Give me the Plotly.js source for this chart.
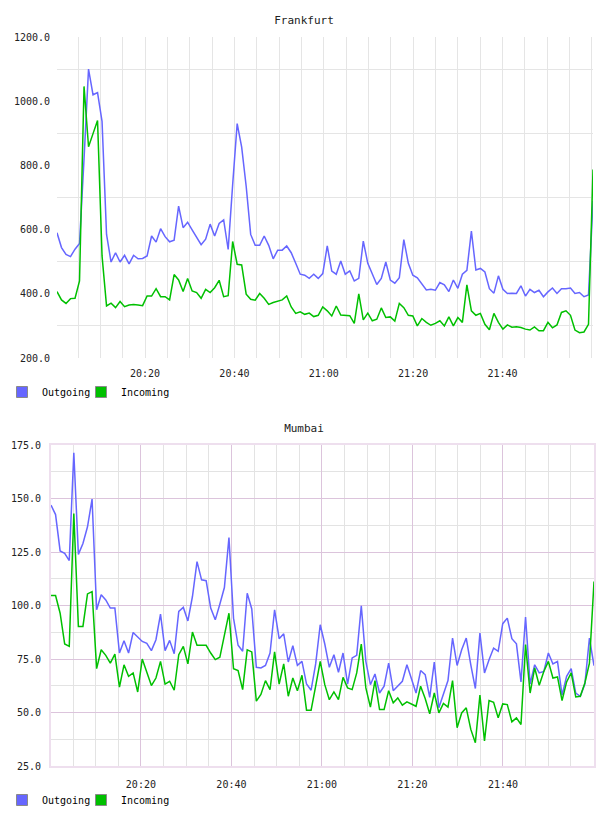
<!DOCTYPE html>
<html>
<head>
<meta charset="utf-8">
<script src="https://cdn.plot.ly/plotly-3.0.1.min.js"></script>
<style>
  html, body { margin: 0; padding: 0; background: #fff; }
  .chart { width: 608px; height: 408px; }
</style>
</head>
<body>
<div id="fra" class="chart"></div>
<div id="mum" class="chart"></div>
<script>
// ---------- data (one sample about every minute, 20:00 - 22:00) ----------
const seriesNames = ["Outgoing", "Incoming"];
const seriesColors = ["#6666ff", "#00c000"];

const fraOutgoing = [590,544,523,516,539,557,820,1100,1020,1027,937,585,499,528,499,520,493,520,509,510,
  518,580,561,603,578,562,567,673,606,623,599,575,553,570,617,580,619,630,538,740,
  930,857,735,585,551,551,580,551,509,536,536,549,528,495,461,458,448,461,448,463,
  549,471,461,502,461,471,440,448,564,495,461,429,448,499,443,433,450,569,495,458,
  450,429,412,414,411,435,428,407,443,417,461,473,595,474,479,468,416,402,456,414,
  401,402,401,425,393,414,404,411,391,406,418,401,416,416,418,401,404,391,396,689];

const fraIncoming = [407,381,370,385,386,440,1046,858,899,940,518,362,371,357,376,360,365,367,365,363,
  393,393,416,391,391,381,460,443,407,448,409,404,386,414,404,419,442,391,394,563,
  492,490,399,383,380,401,386,367,373,378,381,393,359,339,344,336,340,329,333,359,
  347,331,362,334,333,332,308,400,319,340,316,321,356,326,328,315,370,357,333,331,
  300,323,311,302,308,316,300,328,300,326,311,428,347,333,339,305,288,339,311,290,
  303,296,297,295,290,287,297,285,285,311,294,303,342,347,333,287,279,281,305,787];

const mumOutgoing = [146.9,142.5,125.5,124.4,121.0,171.4,123.9,129.0,136.8,149.7,98.0,105.0,102.6,98.8,98.8,77.8,83.5,77.8,87.4,85.1,
  83.2,82.3,78.9,84.0,96.0,78.9,83.7,77.5,97.2,99.1,92.8,104.2,120.5,112.0,111.6,98.8,93.3,100.6,108.4,131.7,
  94.1,81.4,78.6,105.7,98.4,71.1,70.8,72.0,77.8,98.0,84.5,86.8,73.6,81.2,72.0,73.9,63.3,60.4,72.7,91.0,
  82.0,71.1,77.0,68.8,77.8,63.3,75.5,76.7,99.8,73.9,63.0,68.0,59.1,62.3,73.1,60.2,62.3,64.6,72.3,65.4,
  59.1,69.6,67.7,57.1,73.6,52.2,58.4,64.9,84.8,72.0,79.3,84.8,72.3,61.2,87.1,68.5,74.7,80.1,78.6,91.5,
  94.1,84.5,82.1,64.3,94.6,63.3,72.3,68.5,69.2,77.8,72.7,73.9,58.1,66.9,70.5,59.1,57.6,63.3,84.8,71.9];

const mumIncoming = [104.7,104.7,96.4,82.0,80.9,143.0,90.2,90.2,105.4,106.5,70.5,79.3,76.7,73.1,77.3,61.9,72.3,66.9,68.5,59.6,
  75.0,68.8,62.6,66.1,73.9,63.3,64.6,60.4,77.0,80.9,72.7,87.6,81.4,81.4,81.4,77.8,74.7,75.8,85.6,96.4,
  70.5,69.6,60.7,79.3,78.3,55.3,58.4,64.9,60.7,78.3,63.3,72.7,57.6,66.1,60.2,67.4,51.1,51.1,62.3,73.9,
  63.0,56.0,59.6,56.0,66.4,61.5,60.7,68.5,82.0,61.5,52.5,64.9,51.4,51.4,60.2,54.5,56.8,53.4,55.0,54.0,
  52.9,62.3,56.5,49.4,59.1,49.8,54.2,52.5,64.9,42.9,49.8,52.2,42.1,35.9,58.1,36.7,55.6,54.8,47.5,54.0,
  53.7,45.6,47.5,44.4,81.7,59.1,70.8,62.7,69.2,73.9,66.1,66.6,55.6,64.3,68.5,57.3,57.6,63.8,73.1,111.2];

// sampling clock of each chart: first sample time (h, m, s) and step in seconds
const fraStart = [20, 0, 17];
const mumStart = [20, 0, 8];
const sampleStepSec = 60.5;

function makeTimes(start, n) {
  const t0 = Date.UTC(2024, 0, 1, start[0], start[1], start[2]);
  const out = [];
  for (let i = 0; i < n; i++) out.push(t0 + i * sampleStepSec * 1000);
  return out;
}

const T20 = Date.UTC(2024, 0, 1, 20, 0, 0);
const MONO = "DejaVu Sans Mono";

function legendBox(x) {
  return { orientation: "h", xref: "container", yref: "container",
           x: x, xanchor: "left", y: 1 - 392 / 408, yanchor: "middle",
           font: { family: MONO, size: 10, color: "#000" }, bgcolor: "rgba(0,0,0,0)" };
}

function buildChart(divId, title, times, outVals, inVals, opts) {
  const traces = [
    { x: times, y: outVals, type: "scatter", mode: "lines", name: seriesNames[0],
      line: { color: seriesColors[0], width: 1.5 }, showlegend: false, hoverinfo: "x+y" },
    { x: times, y: inVals, type: "scatter", mode: "lines", name: seriesNames[1],
      line: { color: seriesColors[1], width: 1.5 }, showlegend: false, hoverinfo: "x+y" },
    // legend entries with square swatches
    { x: [null], y: [null], type: "scatter", mode: "markers", name: seriesNames[0], legend: "legend",
      marker: { symbol: "square", size: 11, color: seriesColors[0], line: { color: "#8a8a8a", width: 1 } } },
    { x: [null], y: [null], type: "scatter", mode: "markers", name: seriesNames[1], legend: "legend2",
      marker: { symbol: "square", size: 11, color: seriesColors[1], line: { color: "#8a8a8a", width: 1 } } }
  ];
  const layout = {
    width: 608, height: 408,
    margin: { l: opts.left, r: opts.right, t: 37, b: 50, pad: 0, autoexpand: false },
    paper_bgcolor: "#fff", plot_bgcolor: "#fff",
    font: { family: MONO, size: 10, color: "#222" },
    title: { text: title, x: 0.5, xref: "container", xanchor: "center",
             y: 1 - 20.5 / 408, yref: "container", yanchor: "middle",
             font: { family: MONO, size: 11, color: "#222" } },
    showlegend: true,
    legend: legendBox(2 / 608),
    legend2: legendBox(81 / 608),
    xaxis: {
      type: "date", tickformat: "%H:%M", automargin: false,
      tickmode: "linear", tick0: T20, dtick: 20 * 60 * 1000,
      showgrid: true, gridcolor: opts.majorGrid, gridwidth: 1,
      minor: { tickmode: "linear", tick0: T20, dtick: 5 * 60 * 1000, showgrid: true, gridcolor: opts.minorGrid, gridwidth: 1 },
      ticks: "", ticklabelstandoff: 8, ticklabeloverflow: "hide past domain",
      showline: opts.border, linecolor: opts.borderColor, linewidth: 2, mirror: opts.border,
      zeroline: false, fixedrange: true
    },
    yaxis: {
      range: opts.yRange, tickmode: "linear", tick0: opts.yRange[0], dtick: opts.yStep,
      tickformat: ".1f", automargin: false,
      showgrid: opts.yMajorGrid, gridcolor: opts.majorGrid, gridwidth: 1,
      minor: { tickmode: "linear", tick0: opts.yRange[0] + opts.yStep / 2, dtick: opts.yStep, showgrid: true, gridcolor: opts.minorGrid, gridwidth: 1 },
      ticks: "", ticklabelstandoff: 6,
      showline: opts.border, linecolor: opts.borderColor, linewidth: 2, mirror: opts.border,
      zeroline: false, fixedrange: true
    }
  };
  Plotly.newPlot(divId, traces, layout, { displayModeBar: false, staticPlot: true });
}

buildChart("fra", "Frankfurt", makeTimes(fraStart, fraOutgoing.length), fraOutgoing, fraIncoming, {
  left: 57, right: 15, yRange: [200, 1200], yStep: 200,
  majorGrid: "#e5e5e5", minorGrid: "#e5e5e5", yMajorGrid: false,
  border: false, borderColor: "#fff"
});

buildChart("mum", "Mumbai", makeTimes(mumStart, mumOutgoing.length), mumOutgoing, mumIncoming, {
  left: 51, right: 14, yRange: [25, 175], yStep: 25,
  majorGrid: "#dcc4dc", minorGrid: "#e3e3e3", yMajorGrid: true,
  border: true, borderColor: "#eedfee"
});
</script>
</body>
</html>
